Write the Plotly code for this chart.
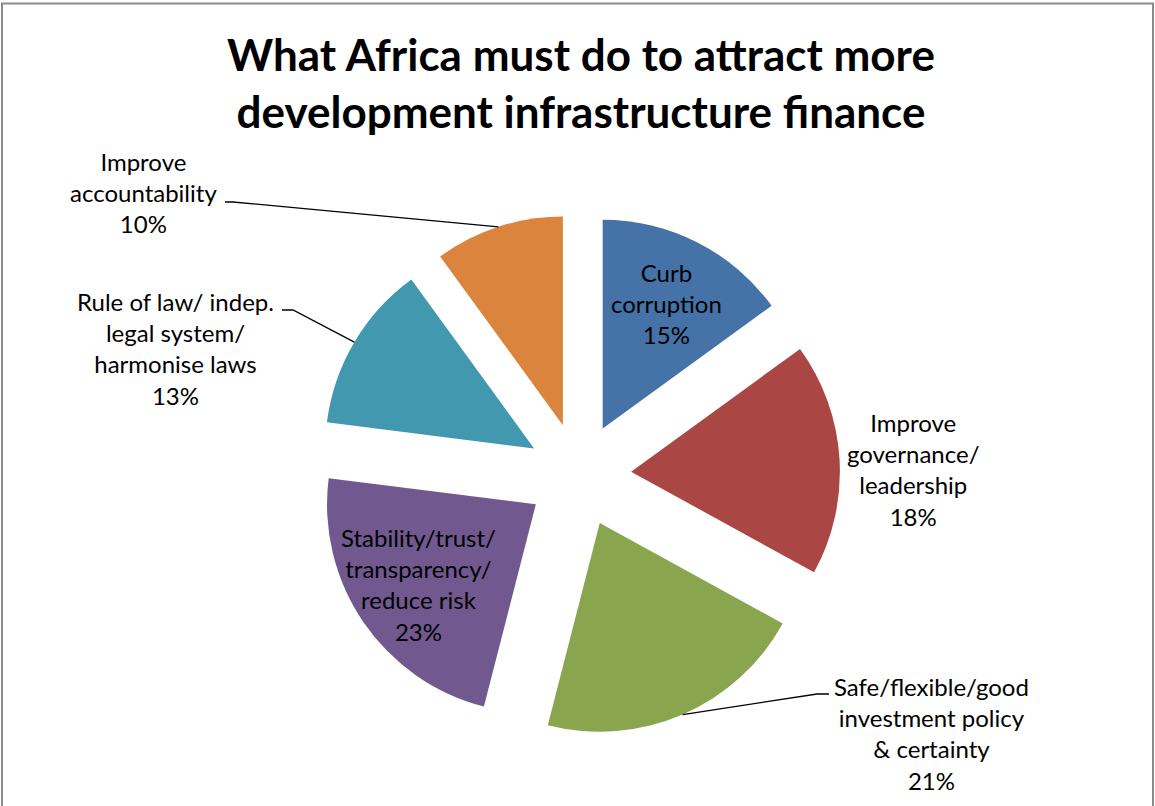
import math
import plotly.graph_objects as go

# ---- data ----
categories = [
    "Curb corruption",
    "Improve governance/ leadership",
    "Safe/flexible/good investment policy & certainty",
    "Stability/trust/ transparency/ reduce risk",
    "Rule of law/ indep. legal system/ harmonise laws",
    "Improve accountability",
]
label_lines = [
    "Curb<br>corruption",
    "Improve<br>governance/<br>leadership",
    "Safe/flexible/good<br>investment policy<br>&amp; certainty",
    "Stability/trust/<br>transparency/<br>reduce risk",
    "Rule of law/ indep.<br>legal system/<br>harmonise laws",
    "Improve<br>accountability",
]
values = [15, 18, 21, 23, 13, 10]
colors = ["#4572A7", "#AA4643", "#89A54E", "#71588F", "#4198AF", "#DB843D"]

OFF = 0  # body margin removed via post_script
W, H = 1155, 806
PULL = 0.25
# pie box in window pixels
box_x = (318, 840)
box_y = (214, 736)

FONT = "Lato"
LBL_SIZE = 24


def win2paper(x, y):
    return (x - OFF) / W, 1 - (y - OFF) / H


fig = go.Figure()
dx0, dy0 = win2paper(box_x[0], box_y[1])
dx1, dy1 = win2paper(box_x[1], box_y[0])
fig.add_trace(go.Pie(
    labels=categories,
    values=values,
    sort=False,
    direction="clockwise",
    rotation=0,
    pull=[PULL] * len(values),
    marker=dict(colors=colors, line=dict(width=0)),
    textinfo="none",
    hoverinfo="label+percent",
    showlegend=False,
    domain=dict(x=[dx0, dx1], y=[dy0, dy1]),
))

# geometry of the pie (as plotly computes it), window pixels
cx = (box_x[0] + box_x[1]) / 2
cy = (box_y[0] + box_y[1]) / 2
r = min(box_x[1] - box_x[0], box_y[1] - box_y[0]) / (2 + 2 * PULL)
total = sum(values)

mids = []
acc = 0
for v in values:
    mids.append((acc + v / 2) / total * 2 * math.pi)
    acc += v


def slice_point(i, frac):
    a = mids[i]
    ox = cx + PULL * r * math.sin(a)
    oy = cy - PULL * r * math.cos(a)
    return ox + frac * r * math.sin(a), oy - frac * r * math.cos(a)


pcts = [f"{round(v / total * 100)}%" for v in values]


def label(i, x, y):
    px, py = win2paper(x, y)
    return dict(x=px, y=py, xref="paper", yref="paper", xanchor="center", yanchor="middle",
                text=label_lines[i] + "<br>" + pcts[i], showarrow=False,
                font=dict(family=FONT, size=LBL_SIZE, color="#000000"), align="center")


annotations = []
# inside labels
for i, frac in [(0, 0.67), (3, 0.68)]:
    annotations.append(label(i, *slice_point(i, frac)))

# outside labels: (index, label centre, leader-line start, horizontal stub end) in window px
outside = [
    (1, (913, 469), None, None),
    (2, (931, 733), (829, 694), (817, 694)),
    (4, (175, 349), (282, 310), (293, 310)),
    (5, (143, 192), (225, 202), (233, 202)),
]
shapes = []
for i, (lx, ly), start, stub in outside:
    annotations.append(label(i, lx, ly))
    if start is not None:
        ex, ey = slice_point(i, 1.0)
        pts = [win2paper(*start), win2paper(*stub), win2paper(ex, ey)]
        path = "M {} {} L {} {} L {} {}".format(pts[0][0], pts[0][1], pts[1][0], pts[1][1],
                                                pts[2][0], pts[2][1])
        shapes.append(dict(type="path", xref="paper", yref="paper", path=path,
                           line=dict(color="#000000", width=1.3)))

# chart border
bx0, by1 = win2paper(2, 3.5)
bx1, _ = win2paper(1153, 3.5)
shapes.append(dict(type="rect", xref="paper", yref="paper",
                   x0=bx0, x1=bx1, y0=-0.05, y1=by1,
                   line=dict(color="#8C8C8C", width=2), fillcolor="rgba(0,0,0,0)", layer="above"))

tx, ty = win2paper(581, 71)
fig.update_layout(
    width=W, height=H,
    margin=dict(l=0, r=0, t=0, b=0),
    paper_bgcolor="white", plot_bgcolor="white",
    title=dict(text="<b>What Africa must do to attract more<br>development infrastructure finance</b>",
               x=tx, xanchor="center", y=ty, yanchor="middle", yref="container",
               font=dict(family=FONT, size=44, color="#000000")),
    annotations=annotations,
    shapes=shapes,
)

fig.write_html("out.html",
               config={"displayModeBar": False},
               post_script="document.body.style.margin='0';document.body.style.overflow='hidden';")
